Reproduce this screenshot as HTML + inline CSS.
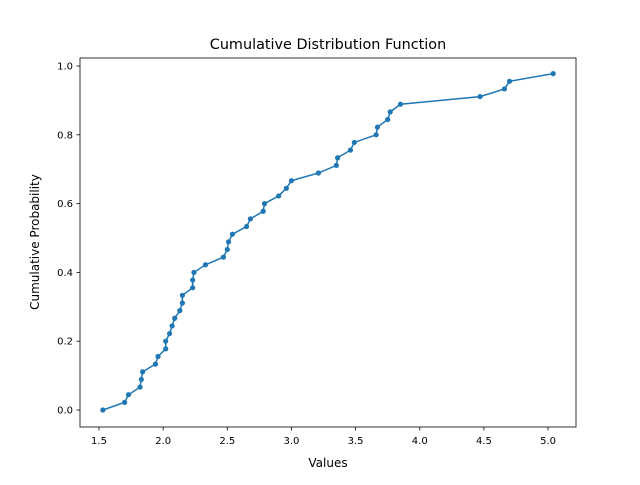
<!DOCTYPE html>
<html><head><meta charset="utf-8"><style>
body{margin:0;background:#fff}
svg text{font-family:"DejaVu Sans","Liberation Sans",sans-serif;fill:#000}
</style></head><body>
<svg id="chart" width="640" height="480" xmlns="http://www.w3.org/2000/svg">
<rect width="640" height="480" fill="#fff"/>
<text x="328" y="49" font-size="14.4" text-anchor="middle">Cumulative Distribution Function</text>
<text x="328" y="467" font-size="12" text-anchor="middle">Values</text>
<text transform="translate(39,242) rotate(-90)" font-size="12" text-anchor="middle">Cumulative Probability</text>
<g id="ticks"></g>
<g id="series"></g>
<rect x="80" y="58" width="496" height="369" fill="none" stroke="#000" stroke-width="0.8"/>
</svg>
<script>
const xValues=[1.53,1.70,1.73,1.82,1.83,1.84,1.94,1.96,2.02,2.02,2.05,2.07,2.09,2.13,2.15,2.15,2.23,2.23,2.24,2.33,2.47,2.50,2.51,2.54,2.65,2.68,2.78,2.79,2.90,2.96,3.00,3.21,3.35,3.36,3.46,3.49,3.66,3.67,3.75,3.77,3.85,4.47,4.66,4.70,5.04];
const yValues=xValues.map((v,i)=>i/xValues.length);
const xTicks=[1.5,2.0,2.5,3.0,3.5,4.0,4.5,5.0];
const yTicks=[0.0,0.2,0.4,0.6,0.8,1.0];
const xs=v=>99+(v-1.5)*128.3;
const ys=v=>410-v*344;
const NS="http://www.w3.org/2000/svg";
const tg=document.getElementById('ticks'), sg=document.getElementById('series');
function mk(tag,attrs,parent){const e=document.createElementNS(NS,tag);for(const k in attrs)e.setAttribute(k,attrs[k]);parent.appendChild(e);return e;}
xTicks.forEach(t=>{
  const l=mk('line',{x1:xs(t),x2:xs(t),y1:427,y2:430.5,stroke:'#000','stroke-width':0.8},tg);
  
  
  const tx=mk('text',{x:xs(t),y:444,'font-size':10,'text-anchor':'middle'},tg);
  tx.textContent=t.toFixed(1);
  
  
});
yTicks.forEach(t=>{
  const l=mk('line',{x1:76.5,x2:80,y1:ys(t),y2:ys(t),stroke:'#000','stroke-width':0.8},tg);
  
  
  const tx=mk('text',{x:73,y:ys(t)+3.5,'font-size':10,'text-anchor':'end'},tg);
  tx.textContent=t.toFixed(1);
  
  
});
const pl=mk('polyline',{points:xValues.map((v,i)=>xs(v)+','+ys(yValues[i])).join(' '),fill:'none',stroke:'#1f77b4','stroke-width':1.5},sg);


xValues.forEach((v,i)=>{
  const c=mk('circle',{cx:xs(v),cy:ys(yValues[i]),r:2.6,fill:'#1f77b4'},sg);
  
  
});
</script>
</body></html>
